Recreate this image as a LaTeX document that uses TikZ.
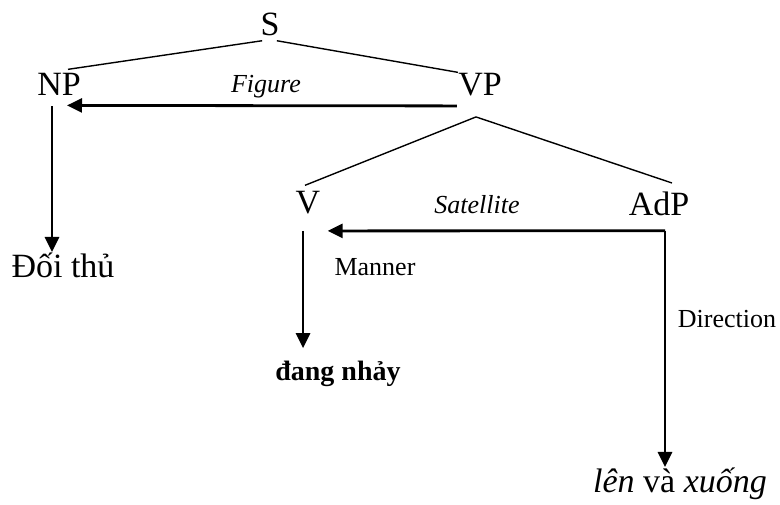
\documentclass[tikz,border=0pt]{standalone}
\usepackage{fontspec}
\setmainfont{Liberation Serif}
\usetikzlibrary{arrows.meta,calc}

\begin{document}
\begin{tikzpicture}[x=0.5pt, y=-0.5pt,
    big/.style={font=\fontsize{17}{20}\selectfont, inner sep=0, anchor=base},
    lbl/.style={font=\fontsize{13}{15}\selectfont, inner sep=0, anchor=base},
    tree/.style={line width=0.7pt},
    arr/.style={line width=1.4pt, -{Triangle[length=7.5pt,width=7pt]}}
  ]
    \useasboundingbox (0,0) rectangle (780,504);
    % tree nodes
    \node[big] (S) at (270,35) {S};
    \node[big] (NP) at (59,95) {NP};
    \node[big] (VP) at (480,95) {VP};
    \node[big] (V) at (308,213) {V};
    \node[big] (AdP) at (659,215) {AdP};
    \node[big] (doi) at (63,277) {Đối thủ};
    \node[big, font=\fontsize{14}{17}\selectfont\bfseries] (dang) at (338,380) {đang nhảy};
    \node[big] (len) at (680,492) {\itshape lên \upshape và \itshape xuống};
    % labels
    \node[lbl] (fig) at (266,92) {\itshape Figure};
    \node[lbl] (sat) at (477,213) {\itshape Satellite};
    \node[lbl] (man) at (375,275) {Manner};
    \node[lbl] (dir) at (727,327) {Direction};
    % branches
    \coordinate (vpb) at ($(VP.south)+(-4,21)$);
    \draw[tree] ($(S.south west)+(2,5)$) -- ($(NP.north)+(9,-3)$);
    \draw[tree] ($(S.south east)+(-3,5)$) -- (VP.north west);
    \draw[tree] (vpb) -- ($(V.north)+(-3,-5)$);
    \draw[tree] (vpb) -- ($(AdP.north)+(13,-8)$);
    % arrows
    \coordinate (figs) at ($(VP.south west)+(-1,10)$);
    \coordinate (npr) at ($(NP.south)+(8,10)$);
    \draw[arr] (figs) -- (npr);
    \coordinate (npd) at ($(NP.south)+(-7,11)$);
    \draw[arr] (npd) -- (npd |- doi.north);
    \coordinate (crn) at ($(AdP.south)+(6,15)$);
    \coordinate (vr) at ($(V.south east)+(7,17)$);
    \draw[arr] (crn) -- (vr);
    \coordinate (vd) at ($(V.south)+(-5,17)$);
    \draw[arr] (vd) -- ($(vd |- dang.north)+(0,-12)$);
    \draw[arr] (crn) -- (crn |- len.north);
\end{tikzpicture}
\end{document}
